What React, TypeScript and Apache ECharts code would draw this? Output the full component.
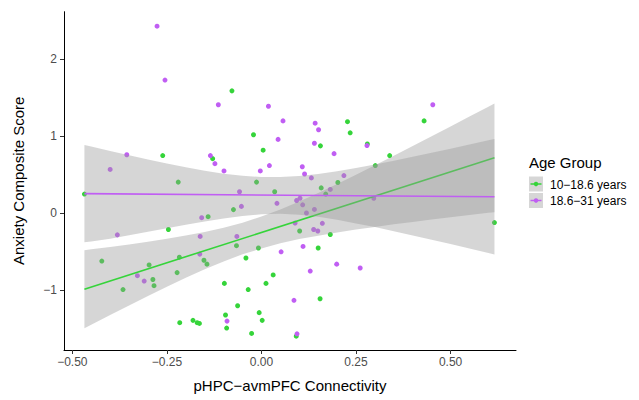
import React, { useEffect, useRef } from "react";
import * as echarts from "echarts";

// ---- data ----
const groupLabels = ["10\u221218.6 years", "18.6\u221231 years"];
const legendTitle = "Age Group";
const xTitle = "pHPC\u2212avmPFC Connectivity";
const yTitle = "Anxiety Composite Score";
const xTicks = [-0.5, -0.25, 0, 0.25, 0.5];
const yTicks = [-1, 0, 1, 2];

const greenPoints: [number, number][] = [
  [-0.078, 1.59], [-0.021, 1.02], [0.0045, 0.82], [-0.261, 0.75], [-0.129, 0.71],
  [-0.22, 0.405], [-0.013, 0.405], [0.2275, 1.19], [0.2346, 1.045], [0.156, 0.876],
  [0.28, 0.9], [0.339, 0.75], [0.301, 0.62], [0.43, 1.2], [0.202, 0.4],
  [0.158, 0.33], [-0.468, 0.25], [0.035, 0.28], [-0.141, -0.044], [-0.074, 0.048],
  [-0.246, -0.21], [-0.066, -0.42], [-0.008, -0.45], [-0.217, -0.57], [-0.152, -0.61],
  [-0.144, -0.66], [-0.041, -0.58], [-0.422, -0.62], [-0.297, -0.67], [-0.223, -0.77],
  [-0.287, -0.86], [-0.284, -0.94], [-0.366, -0.99], [-0.098, -0.91], [-0.035, -0.99],
  [0.031, -0.8], [0.012, -0.91], [-0.063, -1.2], [-0.095, -1.32], [-0.092, -1.49],
  [-0.006, -1.29], [0.002, -1.39], [-0.026, -1.56], [-0.216, -1.42], [-0.181, -1.39],
  [-0.17, -1.42], [-0.164, -1.43], [0.17, 0.25], [0.101, -0.23], [0.182, -0.275],
  [0.15, -0.45], [0.155, -1.11], [0.092, -1.595], [0.616, -0.12],
];

const purplePoints: [number, number][] = [
  [-0.276, 2.43], [-0.255, 1.73], [-0.114, 1.41], [0.0185, 1.39], [0.044, 0.96],
  [-0.356, 0.76], [-0.135, 0.75], [-0.123, 0.645], [-0.099, 0.55], [0.021, 0.62],
  [-0.003, 0.55], [-0.4, 0.57], [0.057, 1.2], [0.142, 1.17], [0.151, 1.085],
  [0.14, 0.91], [0.279, 0.88], [0.192, 0.775], [0.108, 0.605], [0.114, 0.51],
  [0.132, 0.46], [0.218, 0.49], [0.453, 1.41], [0.182, 0.31], [-0.058, 0.28],
  [-0.053, 0.09], [0.041, 0.13], [-0.158, -0.057], [-0.381, -0.28], [-0.162, -0.3],
  [-0.065, -0.3], [-0.163, -0.53], [-0.328, -0.81], [-0.31, -0.88], [-0.091, -1.4],
  [0.102, 0.196], [0.093, 0.166], [0.109, 0.11], [0.14, 0.05], [0.119, 0.004],
  [0.297, 0.196], [0.089, -0.127], [0.161, -0.13], [0.138, -0.21], [0.149, -0.23],
  [0.052, -0.5], [0.11, -0.43], [0.199, -0.66], [0.261, -0.71], [0.129, -0.75],
  [0.086, -1.13], [0.094, -1.565],
];

// fitted lines (endpoints) and confidence bands
const greenFit: [number, number][] = [[-0.468, -0.985], [0.616, 0.72]];
const purpleFit: [number, number][] = [[-0.468, 0.255], [0.616, 0.215]];

const bandX = [
  -0.468, -0.45, -0.4, -0.35, -0.3, -0.25, -0.2, -0.15, -0.1, -0.05, 0, 0.05,
  0.1, 0.15, 0.2, 0.25, 0.3, 0.35, 0.4, 0.45, 0.5, 0.55, 0.6, 0.616,
];
const greenLo = [
  -1.491, -1.446, -1.32, -1.196, -1.073, -0.953, -0.837, -0.727, -0.625, -0.533, -0.456, -0.39,
  -0.335, -0.29, -0.248, -0.211, -0.177, -0.143, -0.112, -0.082, -0.051, -0.022, 0.006, 0.015,
];
const greenHi = [
  -0.479, -0.468, -0.436, -0.404, -0.369, -0.331, -0.289, -0.243, -0.187, -0.121, -0.042, 0.05,
  0.153, 0.264, 0.38, 0.501, 0.623, 0.747, 0.874, 1.0, 1.127, 1.256, 1.384, 1.425,
];
const purpleLo = [
  -0.377, -0.365, -0.33, -0.285, -0.24, -0.195, -0.15, -0.105, -0.068, -0.035, -0.012, -0.005,
  -0.018, -0.046, -0.085, -0.131, -0.179, -0.232, -0.287, -0.343, -0.4, -0.458, -0.517, -0.535,
];
const purpleHi = [
  0.887, 0.866, 0.81, 0.754, 0.7, 0.647, 0.598, 0.553, 0.515, 0.487, 0.471, 0.47,
  0.484, 0.51, 0.545, 0.588, 0.633, 0.682, 0.733, 0.785, 0.838, 0.892, 0.948, 0.965,
];

// ---- styles ----
const GREEN = "#35d43a";
const PURPLE = "#c05ef3";
const FONT = "Liberation Sans, Arial, Helvetica, sans-serif";
const BAND = "rgba(153,153,153,0.4)";

const fmtX = (v: number) => (v < 0 ? "\u2212" : "") + Math.abs(v).toFixed(2);
const fmtY = (v: number) => (v < 0 ? "\u2212" : "") + Math.abs(v).toFixed(0);

function bandSeries(name: string, lo: number[], hi: number[], z: number) {
  return {
    type: "custom",
    name,
    silent: true,
    z,
    data: [0],
    renderItem: (_params: any, api: any) => {
      const upper = bandX.map((x, i) => api.coord([x, hi[i]]));
      const lower = bandX.map((x, i) => api.coord([x, lo[i]])).reverse();
      return {
        type: "polygon",
        shape: { points: upper.concat(lower) },
        style: { fill: BAND, stroke: "none" },
      };
    },
  };
}

export default function App() {
  const ref = useRef<HTMLDivElement>(null);
  useEffect(() => {
    if (!ref.current) return;
    const chart = echarts.init(ref.current, undefined, { renderer: "svg" });
    const axisCommon = {
      axisLine: { show: true, onZero: false, lineStyle: { color: "#000", width: 1 } },
      splitLine: { show: false },
      nameLocation: "middle" as const,
      nameTextStyle: { color: "#000", fontSize: 15, fontFamily: FONT },
    };
    const legendX = 529;
    const rows = [
      { cy: 184, color: GREEN, label: groupLabels[0] },
      { cy: 200.5, color: PURPLE, label: groupLabels[1] },
    ];
    const legendEls: any[] = [
      {
        type: "text",
        left: legendX,
        top: 155,
        style: { text: legendTitle, fill: "#000", font: `15px ${FONT}` },
      },
    ];
    rows.forEach((r) => {
      legendEls.push(
        { type: "rect", shape: { x: legendX, y: r.cy - 7.5, width: 14, height: 15 }, style: { fill: "#d6d6d6" } },
        { type: "line", shape: { x1: legendX + 1.5, y1: r.cy, x2: legendX + 12.5, y2: r.cy }, style: { stroke: r.color, lineWidth: 1.5 } },
        { type: "circle", shape: { cx: legendX + 7, cy: r.cy, r: 2.2 }, style: { fill: r.color } },
        {
          type: "text",
          x: legendX + 21,
          y: r.cy + 0.5,
          style: { text: r.label, fill: "#000", font: `12px ${FONT}`, textVerticalAlign: "middle" },
        }
      );
    });

    chart.setOption({
      animation: false,
      grid: { left: 64, right: 123, top: 11.7, bottom: 50, containLabel: false },
      xAxis: {
        type: "value",
        min: -0.522,
        max: 0.673,
        name: xTitle,
        nameGap: 28,
        ...axisCommon,
        axisTick: { show: true, customValues: xTicks, length: 4, lineStyle: { color: "#333" } },
        axisLabel: {
          customValues: xTicks,
          formatter: fmtX,
          color: "#4d4d4d",
          fontSize: 12,
          fontFamily: FONT,
          margin: 6,
        },
      },
      yAxis: {
        type: "value",
        min: -1.775,
        max: 2.618,
        name: yTitle,
        nameGap: 38,
        ...axisCommon,
        axisTick: { show: true, customValues: yTicks, length: 4, lineStyle: { color: "#333" } },
        axisLabel: {
          customValues: yTicks,
          formatter: fmtY,
          color: "#4d4d4d",
          fontSize: 12,
          fontFamily: FONT,
          margin: 7,
        },
      },
      series: [
        {
          type: "scatter",
          name: groupLabels[0],
          data: greenPoints,
          symbolSize: 5,
          itemStyle: { color: GREEN, opacity: 1 },
          z: 1,
        },
        {
          type: "scatter",
          name: groupLabels[1],
          data: purplePoints,
          symbolSize: 5,
          itemStyle: { color: PURPLE, opacity: 1 },
          z: 1,
        },
        bandSeries("green-band", greenLo, greenHi, 2),
        {
          type: "line",
          name: "green-fit",
          data: greenFit,
          symbol: "none",
          lineStyle: { color: GREEN, width: 1.6 },
          z: 3,
        },
        bandSeries("purple-band", purpleLo, purpleHi, 4),
        {
          type: "line",
          name: "purple-fit",
          data: purpleFit,
          symbol: "none",
          lineStyle: { color: PURPLE, width: 1.6 },
          z: 5,
        },
      ],
      graphic: legendEls,
    });
    return () => chart.dispose();
  }, []);
  return (
    <div
      ref={ref}
      style={{ position: "fixed", left: 0, top: 0, width: 639, height: 400, background: "#fff" }}
    />
  );
}
